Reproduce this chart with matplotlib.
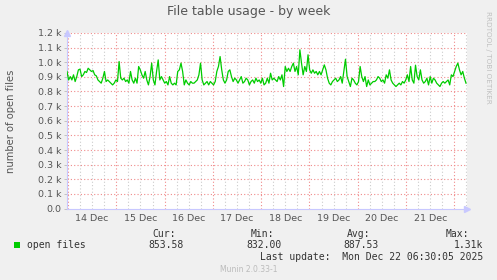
import numpy as np
import matplotlib
matplotlib.use("Agg")
import matplotlib.pyplot as plt

# ---- data ----
open_files = [
    937, 879, 902, 879, 914, 868, 902, 948, 953, 902, 914, 937, 930, 959, 948, 937, 943, 914, 907, 879,
    868, 857, 891, 937, 868, 879, 868, 857, 845, 857, 879, 868, 1005, 891, 879, 891, 868, 879, 857, 937,
    879, 857, 891, 857, 971, 948, 914, 891, 937, 879, 845, 902, 994, 879, 845, 937, 1016, 879, 902, 879,
    857, 868, 845, 902, 857, 845, 857, 845, 937, 948, 994, 937, 845, 879, 857, 845, 868, 857, 857, 868,
    879, 914, 994, 879, 845, 857, 868, 845, 868, 857, 845, 868, 937, 971, 1039, 948, 879, 857, 879, 937,
    948, 902, 868, 891, 879, 857, 879, 902, 857, 868, 891, 879, 845,
    868, 879, 857, 891, 868, 879, 857, 891, 845, 857, 891, 857, 925, 879, 891, 879, 868, 902, 879, 914,
    834, 971, 937, 959, 937, 971, 994, 937, 971, 914, 1085, 994, 914, 971, 937, 1051, 948, 925, 948, 925,
    937, 914, 937, 914, 948, 982, 948, 891, 857, 845, 868, 879, 891, 868, 879, 902, 857, 937, 1021, 902,
    868, 834, 891, 879, 857, 845, 868, 971, 902, 868, 902, 834, 879, 845, 857, 868, 868, 879, 902, 891,
    868, 879, 857, 914, 891, 948, 879, 857, 845, 834, 845, 857, 845, 868, 857, 879, 914, 868, 971, 879,
    857, 980, 902, 879, 948, 879, 857, 868, 891, 845, 902, 857, 891, 879, 857, 845, 834, 857, 868, 857,
    868, 879, 845, 914, 902, 937, 971, 994, 948, 914, 937, 891, 857,
]
day_labels = ["14 Dec", "15 Dec", "16 Dec", "17 Dec", "18 Dec", "19 Dec", "20 Dec", "21 Dec"]
y_ticks = [0, 100, 200, 300, 400, 500, 600, 700, 800, 900, 1000, 1100, 1200]
stats_labels = ["Cur:", "Min:", "Avg:", "Max:"]
stats_values = ["853.58", "832.00", "887.53", "1.31k"]

W, H = 497, 280
fig = plt.figure(figsize=(W / 100, H / 100), dpi=100)
fig.patch.set_facecolor("#F0F0F0")

px_day = 48.3
x0px = 68.0  # pixel of 14 Dec 00:00
left_px, right_px, top_px, bot_px = 67, 467, 33, 208.5
ax = fig.add_axes([left_px / W, (H - bot_px) / H, (right_px - left_px) / W, (bot_px - top_px) / H])
ax.set_facecolor("white")

xmin = (left_px - x0px) / px_day
xmax = (right_px - x0px) / px_day
ax.set_xlim(xmin, xmax)
ax.set_ylim(0, 1200)

# grid
minor_col = "#CCCCCC"
major_col = "#F08A8A"
for k in range(0, 9 * 4):
    xv = k * 0.25
    if xv < xmin or xv > xmax:
        continue
    if k % 4 == 0:
        continue
    ax.axvline(xv, color=minor_col, lw=0.8, linestyle=(0, (1, 2)), zorder=1)
for d in range(0, 9):
    if xmin <= d <= xmax:
        ax.axvline(d, color=major_col, lw=0.8, linestyle=(0, (1, 2)), zorder=1.5)
for yv in y_ticks[1:]:
    ax.axhline(yv, color=major_col, lw=0.8, linestyle=(0, (1, 2)), zorder=1.5)

# data line
xend = (466 - x0px) / px_day
xs = np.linspace(xmin, xend, len(open_files))
ax.plot(xs, open_files, color="#00CC00", lw=0.9, zorder=3)

# axes styling
for s in ["top", "right"]:
    ax.spines[s].set_visible(False)
for s in ["left", "bottom"]:
    ax.spines[s].set_color("#C8C8FF")
    ax.spines[s].set_linewidth(0.8)
ax.plot([xmax], [0], marker=">", color="#C8C8FF", markersize=4, clip_on=False, zorder=5)
ax.plot([xmin], [1200], marker="^", color="#C8C8FF", markersize=4, clip_on=False, zorder=5)

ax.set_yticks(y_ticks)
ax.set_yticklabels(["0.0"] + ["%.1f k" % (v / 1000) for v in y_ticks[1:]])
ax.set_xticks([d + 0.5 for d in range(len(day_labels))])
ax.set_xticklabels(day_labels)
ax.tick_params(axis="both", labelsize=6.8, labelcolor="#555555", color="#BBBBBB", length=2, width=0.6)
ax.tick_params(axis="x", length=0, pad=4)
ax.tick_params(axis="y", pad=2)

def ftext(x, y, s, **kw):
    fig.text(x / W, 1 - y / H, s, **kw)

ftext(248.5, 12, "File table usage - by week", ha="center", va="center", fontsize=9, color="#555555")
ftext(11, 121, "number of open files", rotation=90, ha="center", va="center", fontsize=7.2, color="#555555")
ftext(488, 57, "RRDTOOL / TOBI OETIKER", rotation=270, ha="center", va="center", fontsize=5.2, color="#C0C0C0")

# legend
fig.patches.append(plt.Rectangle((14 / W, 1 - 247.5 / H), 6 / W, 6 / H, transform=fig.transFigure,
                                 facecolor="#00CC00", edgecolor="none"))
mono = dict(family="DejaVu Sans Mono", fontsize=7, color="#333333", va="center")
ftext(27, 245, "open files", ha="left", **mono)
head_x = [176, 274, 370, 469]
val_x = [184, 282, 379, 483]
for lab, hx in zip(stats_labels, head_x):
    ftext(hx, 234, lab, ha="right", **mono)
for val, vx in zip(stats_values, val_x):
    ftext(vx, 245, val, ha="right", **mono)
ftext(483, 257, "Last update:  Mon Dec 22 06:30:05 2025", ha="right", **mono)
ftext(249, 269, "Munin 2.0.33-1", ha="center", va="center", fontsize=5.5, color="#BBBBBB")

fig.savefig("out.png", dpi=100, facecolor=fig.get_facecolor())
